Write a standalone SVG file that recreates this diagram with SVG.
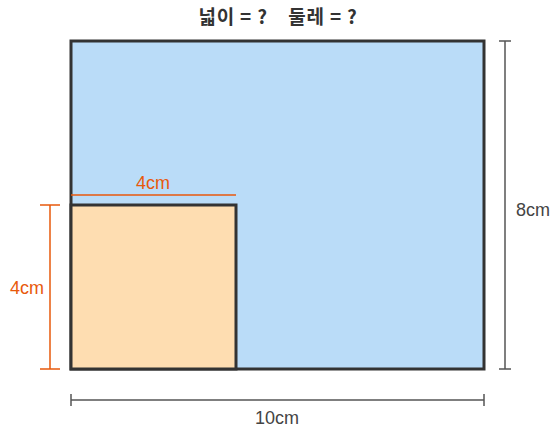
<svg xmlns="http://www.w3.org/2000/svg" width="552" height="427" viewBox="0 0 552 427">
<style>
.t{font-family:"Noto Sans CJK KR","Liberation Sans",sans-serif}
.lbl{font-family:"Liberation Sans",Arial,sans-serif;font-size:18px}
.g{stroke:#555;stroke-width:1.5;fill:none}
.o{stroke:#E8590C;stroke-width:1.5;fill:none}
</style>
<rect width="552" height="427" fill="#fff"/>
<text class="t" x="278" y="24" text-anchor="middle" font-size="19" font-weight="bold" letter-spacing="0.8" fill="#333" xml:space="preserve">넓이 = ?    둘레 = ?</text>
<g id="big"><rect x="71" y="41" width="413" height="328" fill="#BADCF8" stroke="#333" stroke-width="3"/></g>
<g id="small"><rect x="71" y="205" width="165" height="164" fill="#FEDDB1" stroke="#333" stroke-width="3"/></g>
<g id="connectors">
<path class="g" d="M505 41V369M499 41H511M499 369H511"/>
<path class="g" d="M71 400H484M71 394V406M484 394V406"/>
<path class="o" d="M50 205V369M40 205H60M40 369H60"/>
<path class="o" d="M71 195H236"/>
</g>
<text class="lbl" x="516" y="216" fill="#444">8cm</text>
<text class="lbl" x="277" y="424" text-anchor="middle" fill="#444">10cm</text>
<text class="lbl" x="27" y="294" text-anchor="middle" fill="#E8590C">4cm</text>
<text class="lbl" x="153" y="189" text-anchor="middle" fill="#E8590C">4cm</text>
</svg>
